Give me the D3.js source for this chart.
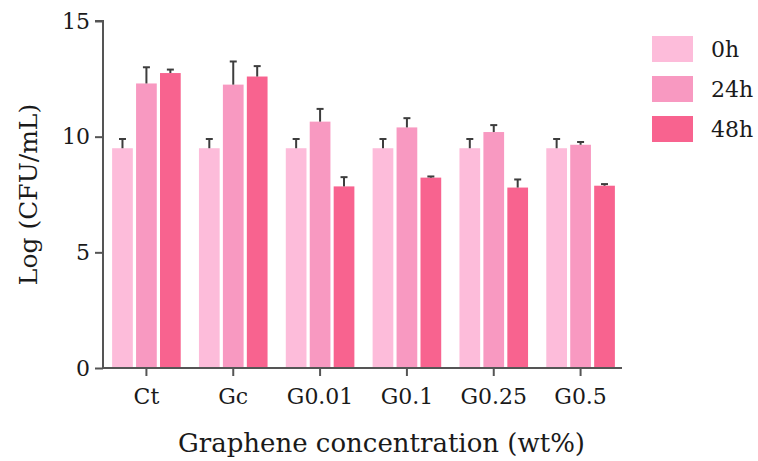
<!DOCTYPE html>
<html>
<head>
<meta charset="utf-8">
<script src="https://cdn.jsdelivr.net/npm/d3@7"></script>
<style>
  html, body { margin: 0; padding: 0; background: #fff; }
  svg { display: block; font-family: "DejaVu Serif", serif; }
</style>
</head>
<body>
<div id="chart"></div>
<script>
// data
const categories = ["Ct", "Gc", "G0.01", "G0.1", "G0.25", "G0.5"];
const series = ["0h", "24h", "48h"];
const values0h  = [9.5, 9.5, 9.5, 9.5, 9.5, 9.5];
const values24h = [12.3, 12.25, 10.65, 10.4, 10.2, 9.65];
const values48h = [12.75, 12.6, 7.85, 8.23, 7.8, 7.88];
const err0h  = [0.4, 0.4, 0.4, 0.4, 0.4, 0.4];
const err24h = [0.7, 1.0, 0.55, 0.4, 0.3, 0.12];
const err48h = [0.15, 0.45, 0.4, 0.05, 0.35, 0.07];
const yTicks = [0, 5, 10, 15];
const colors = ["#fdbcda", "#f899c1", "#f8638f"];

const valueSets = [values0h, values24h, values48h];
const errSets = [err0h, err24h, err48h];

const width = 758, height = 461;
const plot = { left: 103, right: 624, top: 21, bottom: 368 };

const svg = d3.select("#chart").append("svg")
  .attr("width", width)
  .attr("height", height);

// scales
const x0 = d3.scaleBand()
  .domain(categories)
  .range([plot.left, plot.right])
  .paddingInner(0.21)
  .paddingOuter(0.105);

const x1 = d3.scaleBand()
  .domain(series)
  .range([0, x0.bandwidth()])
  .paddingInner(0.135);

const y = d3.scaleLinear()
  .domain([0, 15])
  .range([plot.bottom, plot.top]);

const color = d3.scaleOrdinal().domain(series).range(colors);

// flatten rows
const rows = [];
categories.forEach((c, i) => {
  series.forEach((s, k) => {
    rows.push({ cat: c, ser: s, value: valueSets[k][i], err: errSets[k][i] });
  });
});

// bars
svg.append("g")
  .selectAll("rect")
  .data(rows)
  .join("rect")
    .attr("x", d => x0(d.cat) + x1(d.ser))
    .attr("y", d => y(d.value))
    .attr("width", x1.bandwidth())
    .attr("height", d => y(0) - y(d.value))
    .attr("fill", d => color(d.ser));

// error bars (upper only)
const capW = 7;
const eb = svg.append("g")
  .attr("stroke", "#3d3d3d")
  .attr("stroke-width", 2)
  .selectAll("g")
  .data(rows)
  .join("g");

eb.append("line")
  .attr("x1", d => x0(d.cat) + x1(d.ser) + x1.bandwidth() / 2)
  .attr("x2", d => x0(d.cat) + x1(d.ser) + x1.bandwidth() / 2)
  .attr("y1", d => y(d.value))
  .attr("y2", d => y(d.value + d.err));

eb.append("line")
  .attr("x1", d => x0(d.cat) + x1(d.ser) + x1.bandwidth() / 2 - capW / 2)
  .attr("x2", d => x0(d.cat) + x1(d.ser) + x1.bandwidth() / 2 + capW / 2)
  .attr("y1", d => y(d.value + d.err))
  .attr("y2", d => y(d.value + d.err));

// y axis
const yAxis = svg.append("g")
  .attr("transform", `translate(${plot.left},0)`)
  .call(d3.axisLeft(y).tickValues(yTicks).tickSize(8).tickPadding(5));

// x axis
const xAxis = svg.append("g")
  .attr("transform", `translate(0,${plot.bottom})`)
  .call(d3.axisBottom(x0).tickSize(8).tickPadding(12).tickSizeOuter(0));

[yAxis, xAxis].forEach(a => {
  a.select(".domain").attr("stroke", "#555").attr("stroke-width", 2);
  a.selectAll(".tick line").attr("stroke", "#555").attr("stroke-width", 2);
  a.selectAll(".tick text")
    .attr("fill", "#1a1a1a")
    .style("font-family", "DejaVu Serif, serif")
    .style("font-size", "22px");
});
yAxis.select(".domain").attr("d", `M-8,${plot.top}H0V${plot.bottom}`);
xAxis.select(".domain").attr("d", `M${plot.left},0H${plot.right - 2}`);

// axis titles
svg.append("text")
  .attr("x", (plot.left + plot.right) / 2 + 18)
  .attr("y", 452)
  .attr("text-anchor", "middle")
  .attr("fill", "#1a1a1a")
  .style("font-size", "26px")
  .text("Graphene concentration (wt%)");

svg.append("text")
  .attr("transform", `translate(37,${(plot.top + plot.bottom) / 2}) rotate(-90)`)
  .attr("text-anchor", "middle")
  .attr("fill", "#1a1a1a")
  .style("font-size", "25px")
  .text("Log (CFU/mL)");

// legend
const legend = svg.append("g")
  .selectAll("g")
  .data(series)
  .join("g")
    .attr("transform", (d, i) => `translate(652,${36 + i * 40})`);

legend.append("rect")
  .attr("width", 41)
  .attr("height", 26)
  .attr("fill", d => color(d));

legend.append("text")
  .attr("x", 59)
  .attr("y", 13)
  .attr("dy", "0.35em")
  .attr("fill", "#1a1a1a")
  .style("font-size", "22px")
  .text(d => d);
</script>
</body>
</html>
